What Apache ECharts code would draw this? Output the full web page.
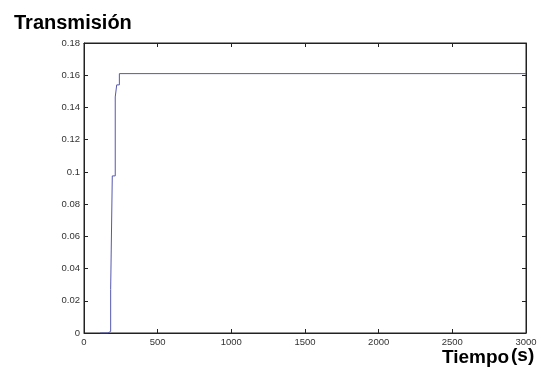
<!DOCTYPE html>
<html>
<head>
<meta charset="utf-8">
<script src="https://cdn.jsdelivr.net/npm/echarts@6/dist/echarts.min.js"></script>
<style>
html,body{margin:0;padding:0;background:#fff;}
#c{width:542px;height:377px;}
</style>
</head>
<body>
<div id="c"></div>
<script>
// Data (time in s, transmission)
var times = [110, 163, 181, 192, 212, 222, 240, 3000];
var values = [0, 0.001, 0.027, 0.0975, 0.1465, 0.154, 0.161, 0.161];
var xTicks = [0, 500, 1000, 1500, 2000, 2500, 3000];
var yTicks = [0, 0.02, 0.04, 0.06, 0.08, 0.1, 0.12, 0.14, 0.16, 0.18];

var titleText = 'Transmisión';
var xNameMain = 'Tiempo';
var xNameUnit = '(s)';

var data = times.map(function (t, i) { return [t, values[i]]; });
var axisColor = '#222';
var labelStyle = { color: '#333', fontSize: 9.5, fontFamily: 'Liberation Sans, Arial, sans-serif' };
var font = '"Liberation Sans", Arial, sans-serif';

function axisBase(extra) {
  return Object.assign({
    type: 'value',
    axisLine: { show: true, onZero: false, lineStyle: { color: axisColor, width: 1 } },
    axisTick: { show: true, inside: true, length: 4, lineStyle: { color: axisColor } },
    splitLine: { show: false }
  }, extra);
}

var chart = echarts.init(document.getElementById('c'), null, { renderer: 'canvas' });
chart.setOption({
  animation: false,
  backgroundColor: '#fff',
  title: {
    text: titleText,
    left: 9, top: 8,
    textStyle: { fontSize: 20, fontWeight: 'bold', color: '#000', fontFamily: font }
  },
  graphic: [{
    type: 'text', left: 442, top: 348,
    style: { text: xNameMain, font: 'bold 19px ' + font, fill: '#000' },
    z: 10
  }, {
    type: 'text', left: 511, top: 346,
    style: { text: xNameUnit, font: 'bold 19px ' + font, fill: '#000' },
    z: 10
  }],
  grid: { left: 84, right: 16, top: 43, bottom: 44, containLabel: false,
          show: true, borderColor: axisColor, borderWidth: 1, backgroundColor: 'transparent' },
  xAxis: [
    axisBase({ min: 0, max: 3000, interval: 500, position: 'bottom',
      axisLabel: Object.assign({ margin: 4, formatter: function (v) { return String(v); } }, labelStyle) }),
    axisBase({ min: 0, max: 3000, interval: 500, position: 'top', axisLabel: { show: false } })
  ],
  yAxis: [
    axisBase({ min: 0, max: 0.18, interval: 0.02, position: 'left',
      axisLabel: Object.assign({ margin: 4, formatter: function (v) { return String(+v.toFixed(2)); } }, labelStyle) }),
    axisBase({ min: 0, max: 0.18, interval: 0.02, position: 'right', axisLabel: { show: false } })
  ],
  series: [{
    type: 'line',
    step: 'end',
    data: data,
    showSymbol: false,
    symbol: 'none',
    lineStyle: { color: '#5558b0', width: 1 },
    z: 5
  }]
});
</script>
</body>
</html>
